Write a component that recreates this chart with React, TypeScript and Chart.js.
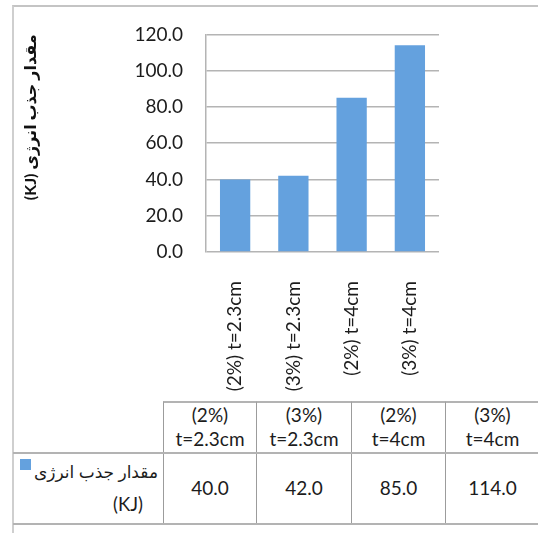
import React, { useEffect, useRef } from "react";
import { Chart, registerables } from "chart.js";

Chart.register(...registerables);

// ---- data ----
const categories = ["(2%) t=2.3cm", "(3%) t=2.3cm", "(2%) t=4cm", "(3%) t=4cm"];
const values = [40, 42, 85, 114];
const seriesName = "مقدار جذب انرژی (KJ)";
const seriesNameMain = "مقدار جذب انرژی";
const seriesUnit = "(KJ)";
const axisTitle = "(KJ) مقدار جذب انرژی";
const yTicks = [0, 20, 40, 60, 80, 100, 120];

// ---- styles ----
const BAR = "#64a1de";
const GRID = "#b4b4b4";
const TEXT = "#1c1c1c";
const FONT = "Lato, 'DejaVu Sans', sans-serif";
const colEdges = [163, 256, 351, 445, 539];
const HEAD_TOP = 401;
const ROW_TOP = 452;
const ROW_BOTTOM = 523;
const HLINE = "#b3b3b3";
const VLINE = "#9c9c9c";

export default function App() {
  const ref = useRef<HTMLCanvasElement | null>(null);

  useEffect(() => {
    if (!ref.current) return;
    const chart = new Chart(ref.current, {
      type: "bar",
      data: {
        labels: categories,
        datasets: [
          {
            label: seriesName,
            data: values,
            backgroundColor: BAR,
            borderWidth: 0,
            barPercentage: 0.52,
            categoryPercentage: 1,
          },
        ],
      },
      options: {
        responsive: false,
        animation: false,
        layout: { padding: { left: 0, right: 99, top: 34, bottom: 0 } },
        plugins: { legend: { display: false }, tooltip: { enabled: false } },
        scales: {
          x: {
            grid: { display: false },
            border: { display: false },
            ticks: {
              minRotation: 90,
              maxRotation: 90,
              autoSkip: false,
              padding: 21,
              color: TEXT,
              font: { family: FONT, size: 19 },
            },
            afterFit: (s: any) => {
              s.height = 148;
            },
          },
          y: {
            min: 0,
            max: 120,
            afterBuildTicks: (s: any) => {
              s.ticks = yTicks.map((v) => ({ value: v }));
            },
            ticks: {
              padding: 23,
              color: TEXT,
              font: { family: FONT, size: 19 },
              callback: (v: any) => Number(v).toFixed(1),
            },
            grid: { color: GRID, lineWidth: 1.5, drawTicks: false },
            border: { color: GRID, width: 1.5 },
            title: {
              display: true,
              text: axisTitle,
              align: "end",
              color: "#111",
              font: { family: FONT, size: 16, weight: "bold" },
              padding: { top: 21, bottom: 0 },
            },
            afterFit: (s: any) => {
              s.width = 206;
            },
          },
        },
      },
    });
    return () => chart.destroy();
  }, []);

  const cellText: React.CSSProperties = {
    fontFamily: FONT,
    fontSize: 19,
    color: TEXT,
    textAlign: "center",
    position: "absolute",
    boxSizing: "border-box",
  };

  return (
    <div
      style={{
        position: "absolute",
        left: 0,
        top: 0,
        width: 538,
        height: 533,
        overflow: "hidden",
        background: "#fff",
      }}
    >
      {/* outer frame */}
      <div
        style={{
          position: "absolute",
          left: 12,
          top: 5,
          width: 700,
          height: 700,
          borderLeft: "2px solid #cfcfcf",
          borderTop: "2px solid #c4c4c4",
        }}
      />
      <canvas
        ref={ref}
        width={538}
        height={400}
        style={{ position: "absolute", left: 0, top: 0, width: 538, height: 400 }}
      />
      {/* data table */}
      {categories.map((c, i) => (
        <div
          key={"h" + i}
          style={{
            ...cellText,
            left: colEdges[i],
            top: HEAD_TOP,
            width: colEdges[i + 1] - colEdges[i],
            height: ROW_TOP - HEAD_TOP,
            borderTop: `2px solid ${HLINE}`,
            borderLeft: `1px solid ${VLINE}`,
            lineHeight: "24px",
            paddingTop: 0,
          }}
        >
          {c}
        </div>
      ))}
      {values.map((v, i) => (
        <div
          key={"v" + i}
          style={{
            ...cellText,
            left: colEdges[i],
            top: ROW_TOP,
            width: colEdges[i + 1] - colEdges[i],
            height: ROW_BOTTOM - ROW_TOP,
            borderLeft: `1px solid ${VLINE}`,
            lineHeight: `${ROW_BOTTOM - ROW_TOP}px`,
          }}
        >
          {v.toFixed(1)}
        </div>
      ))}
      {/* row lines */}
      <div
        style={{
          position: "absolute",
          left: 13,
          top: ROW_TOP,
          width: 540,
          height: 0,
          borderTop: `2px solid ${HLINE}`,
        }}
      />
      <div
        style={{
          position: "absolute",
          left: 13,
          top: ROW_BOTTOM,
          width: 540,
          height: 0,
          borderTop: `2px solid ${HLINE}`,
        }}
      />
      {/* legend cell */}
      <div
        dir="rtl"
        style={{
          position: "absolute",
          left: 14,
          top: ROW_TOP + 4,
          width: 144,
          fontFamily: FONT,
          fontSize: 17,
          lineHeight: "32px",
          color: TEXT,
          textAlign: "right",
          whiteSpace: "nowrap",
        }}
      >
        <span>{seriesNameMain}</span>
        <span
          style={{
            display: "inline-block",
            width: 11,
            height: 11,
            background: BAR,
            marginRight: 3,
            verticalAlign: "8px",
          }}
        />
        <br />
        <span style={{ marginRight: 15, fontSize: 18.5 }}>{seriesUnit}</span>
      </div>
    </div>
  );
}
